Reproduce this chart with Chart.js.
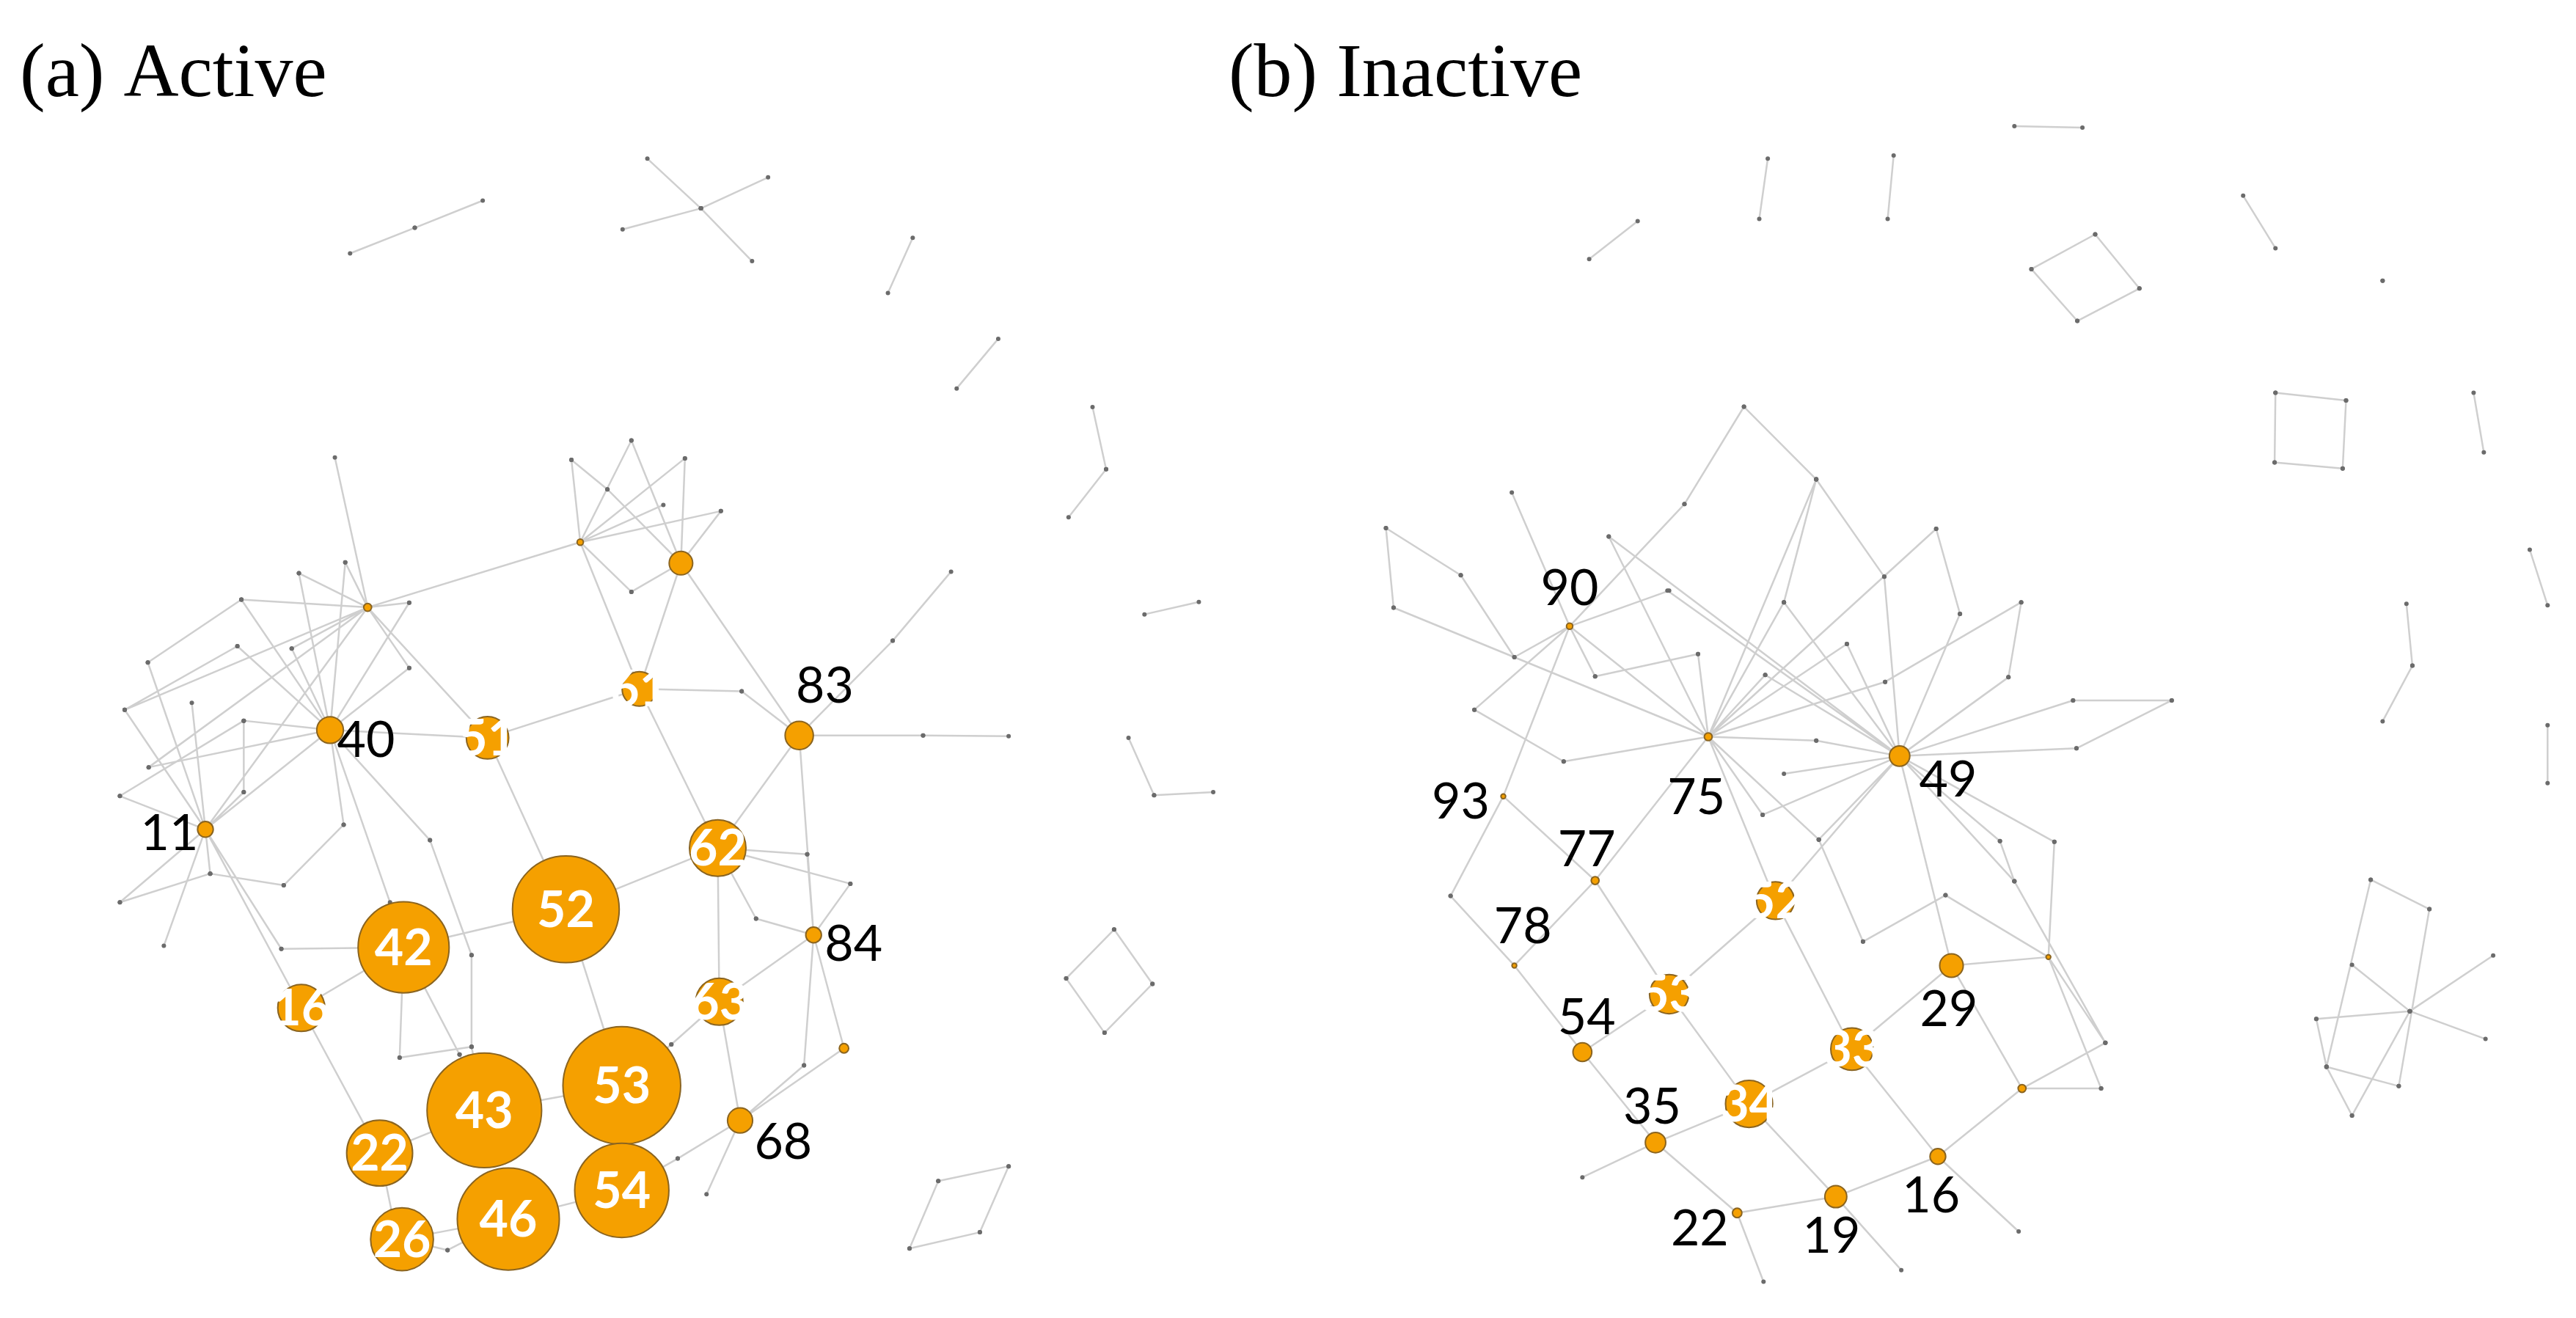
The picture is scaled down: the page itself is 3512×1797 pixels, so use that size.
<!DOCTYPE html>
<html>
<head>
<meta charset="utf-8">
<script src="https://cdn.jsdelivr.net/npm/chart.js@4"></script>
<style>
  html, body { margin: 0; padding: 0; background: #fff; }
  #wrap { width: 3512px; height: 1797px; position: relative; }
</style>
</head>
<body>
<div id="wrap"><canvas id="net"></canvas></div>
<script>
// panel titles
var panelTitles = ['(a) Active', '(b) Inactive']
var titleX = [12, 744]

// panel A: edges as [x1, y1, x2, y2] in panel units
var edgesA = [
  [438,186,519,153],[519,153,604,118],
  [779,155,877,128],[877,128,961,88],[810,64,877,128],[877,128,941,196],
  [1142,166,1111,237],[1249,296,1197,360],
  [1367,384,1384,464],[1384,464,1337,526],
  [1000,807,1117,685],[1117,685,1190,596],
  [1432,651,1500,635],
  [1412,810,1444,884],[1444,884,1518,880],
  [1394,1057,1442,1127],[1442,1127,1382,1190],[1382,1190,1334,1120],[1334,1120,1394,1057],
  [1174,1381,1262,1362],[1262,1362,1226,1447],[1226,1447,1138,1468],[1138,1468,1174,1381],
  [413,800,610,810],[610,810,800,747],[800,747,928,750],[928,750,1000,807],[1000,807,1155,807],[1155,807,1262,808],
  [460,642,726,558],[460,642,610,810],[726,558,800,747],[852,585,800,747],[852,585,1000,807],
  [726,558,715,452],[726,558,790,427],[726,558,857,450],[726,558,830,510],[726,558,902,518],
  [715,452,760,490],[760,490,852,585],[790,427,852,585],[857,450,852,585],[902,518,852,585],
  [726,558,790,622],[790,622,852,585],
  [800,747,898,952],[1000,807,898,952],[898,952,708,1031],[708,1031,505,1080],[708,1031,778,1258],[610,810,708,1031],
  [898,952,1010,960],[898,952,1064,998],[898,952,946,1043],[946,1043,1018,1064],[1010,960,1018,1064],
  [1064,998,1018,1064],[898,952,900,1150],[1000,807,1018,1064],
  [1018,1064,900,1150],[1018,1064,1056,1210],[1018,1064,1006,1232],
  [900,1150,840,1205],[840,1205,778,1258],[900,1150,926,1303],
  [926,1303,1056,1210],[926,1303,884,1398],[926,1303,848,1352],[848,1352,778,1393],[1006,1232,926,1303],
  [778,1258,606,1290],[778,1258,778,1393],[778,1393,636,1430],[606,1290,475,1345],[636,1430,503,1456],
  [475,1345,490,1420],[490,1420,503,1456],[503,1456,560,1470],[560,1470,636,1430],
  [505,1080,377,1158],[505,1080,352,1082],[505,1080,500,1222],[500,1222,590,1208],[505,1080,575,1218],
  [590,1208,606,1290],[575,1218,606,1290],
  [413,800,488,1022],[413,800,538,942],[538,942,590,1090],[590,1090,590,1208],
  [257,928,377,1158],[377,1158,475,1345],[257,928,352,1082],
  [257,928,150,1022],[257,928,205,1078],[257,928,263,985],[257,928,150,885],[257,928,185,713],
  [257,928,240,765],[257,928,156,774],[257,928,305,880],[257,928,413,800],[257,928,460,642],
  [185,713,302,632],[302,632,413,800],[156,774,297,692],[297,692,413,800],[150,885,305,788],
  [305,788,413,800],[305,788,305,880],[150,1022,263,985],
  [413,800,430,922],[430,922,355,1000],[355,1000,263,985],
  [413,800,374,598],[413,800,432,584],[413,800,512,636],[413,800,512,720],[413,800,365,695],
  [413,800,186,848],[419,449,460,642],
  [460,642,302,632],[460,642,374,598],[460,642,432,584],[460,642,512,636],[460,642,512,720],
  [460,642,156,774],[460,642,186,848],[460,642,365,695]
]

// panel A: nodes
var nodeAX = [413,610,800,1000,257,898,708,505,1018,377,900,778,606,475,926,778,636,503,852,460,726,1056]
var nodeAY = [800,810,747,807,928,952,1031,1080,1064,1158,1150,1258,1290,1345,1303,1393,1430,1456,585,642,558,1210]
var nodeAR = [17,27,22,18,10,36,68,58,10,30,30,75,73,42,16,60,65,40,15,5,4,6]
var nodeAText = ['40','51','61','83','11','62','52','42','84','16','63','53','43','22','68','54','46','26','','','','']
var nodeAInside = [0,1,1,0,0,1,1,1,0,1,1,1,1,1,0,1,1,1,0,0,0,0]
var labelAX = [458,610,800,1032,212,898,708,505,1068,377,900,778,606,475,980,778,636,503,0,0,0,0]
var labelAY = [812,810,747,742,932,952,1031,1080,1075,1158,1150,1258,1290,1345,1330,1393,1430,1456,0,0,0,0]

// panel B: edges
var edgesB = [
  [893,20,973,22],[603,62,593,140],[751,58,744,140],[450,143,393,192],[1162,110,1200,178],[1326,220,1326,220],
  [913,205,988,160],[988,160,1040,230],[1040,230,967,272],[967,272,913,205],
  [1200,365,1283,375],[1283,375,1279,463],[1279,463,1199,455],[1199,455,1200,365],
  [1433,365,1445,442],[1499,568,1520,640],[1354,638,1361,718],[1361,718,1326,790],[1520,795,1520,870],
  [1358,1165,1456,1093],[1358,1165,1447,1201],[1358,1165,1290,1105],[1358,1165,1248,1175],[1358,1165,1290,1300],
  [1312,995,1381,1033],[1381,1033,1345,1262],[1345,1262,1260,1237],[1260,1237,1248,1175],[1312,995,1260,1237],[1260,1237,1290,1300],
  [370,667,533,810],[370,667,487,621],[370,667,505,509],[505,509,575,383],[575,383,660,477],[660,477,740,603],[740,603,758,835],
  [154,540,163,643],[163,643,533,810],[154,540,242,601],[242,601,305,707],[305,707,370,667],[302,494,370,667],
  [370,667,400,732],[400,732,521,703],[521,703,533,810],[416,551,533,810],[416,551,758,835],
  [258,775,370,667],[258,775,363,842],[363,842,533,810],
  [533,810,622,636],[622,636,660,477],[622,636,758,835],[533,810,660,477],
  [533,810,801,541],[801,541,829,651],[829,651,758,835],[533,810,696,690],[696,690,758,835],
  [533,810,741,739],[741,739,901,636],[901,636,886,733],[886,733,758,835],[533,810,660,815],[660,815,758,835],
  [533,810,612,1022],[533,810,663,943],[663,943,715,1075],[715,1075,812,1015],[812,1015,933,1095],
  [533,810,597,911],[597,911,758,835],[622,858,758,835],[533,810,600,730],[600,730,758,835],
  [758,835,962,763],[962,763,1078,763],[1078,763,966,825],[966,825,758,835],[758,835,612,1022],[758,835,819,1106],
  [758,835,876,945],[876,945,893,997],[893,997,1000,1206],[758,835,940,946],[940,946,933,1095],[758,835,893,997],
  [758,835,485,621],[758,835,663,943],
  [292,887,370,667],[292,887,400,996],[292,887,230,1016],[230,1016,305,1106],[400,996,305,1106],[400,996,533,810],
  [305,1106,385,1218],[400,996,487,1143],[487,1143,612,1022],[487,1143,385,1218],[612,1022,702,1214],
  [487,1143,581,1285],[702,1214,581,1285],[702,1214,819,1106],[385,1218,471,1335],[581,1285,471,1335],
  [581,1285,683,1405],[702,1214,803,1353],[471,1335,567,1426],[471,1335,385,1380],[567,1426,683,1405],
  [683,1405,803,1353],[803,1353,902,1265],[819,1106,902,1265],[819,1106,933,1095],[933,1095,995,1265],
  [995,1265,902,1265],[902,1265,1000,1206],[933,1095,1000,1206],[683,1405,760,1500],[803,1353,898,1450],[567,1426,598,1515]
]

// panel B: nodes
var nodeBX = [758,533,370,292,400,305,612,487,385,819,702,581,471,567,683,803,902,933]
var nodeBY = [835,810,667,887,996,1106,1022,1143,1218,1106,1214,1285,1335,1426,1405,1353,1265,1095]
var nodeBR = [13,5,4,3,5,3,24,25,12,15,27,30,13,6,14,10,5,3]
var nodeBText = ['49','75','90','93','77','78','52','53','54','29','33','34','35','22','19','16','','']
var nodeBInside = [0,0,0,0,0,0,1,1,0,0,1,1,0,0,0,0,0,0]
var labelBX = [815,519,370,242,390,315,612,487,390,816,702,581,467,523,678,795,0,0]
var labelBY = [865,887,617,893,955,1054,1022,1143,1172,1162,1214,1285,1288,1445,1455,1403,0,0]

// panel units -> page units (page is 1560 x 798)
var panelMap = [
  {ox: 0, sx: 0.484, oy: 66, sy: 0.47},
  {ox: 760, sx: 0.515, oy: 67, sy: 0.468}
]
var pageW = 1560, pageH = 798

function mapX(p, v) { return panelMap[p].ox + v * panelMap[p].sx }
function mapY(p, v) { return panelMap[p].oy + v * panelMap[p].sy }

function edgeData(p, edges) {
  var out = []
  edges.forEach(e => {
    out.push({x: mapX(p, e[0]), y: mapY(p, e[1])})
    out.push({x: mapX(p, e[2]), y: mapY(p, e[3])})
    out.push({x: mapX(p, e[2]), y: null})
  })
  return out
}

function nodeData(p, xs, ys, rs) {
  return xs.map((x, i) => ({x: mapX(p, x), y: mapY(p, ys[i]), r: rs[i] * 1.07}))
}

function labelData(p, xs, ys, texts, inside) {
  return texts.map((t, i) => ({x: mapX(p, xs[i]), y: mapY(p, ys[i]), t: t, inside: inside[i]}))
    .filter(l => l.t !== '')
}

var labels = labelData(0, labelAX, labelAY, nodeAText, nodeAInside)
  .concat(labelData(1, labelBX, labelBY, nodeBText, nodeBInside))

var edgeStyle = {
  type: 'line',
  borderColor: '#cfcfcf',
  borderWidth: 2.5,
  pointRadius: 3,
  pointBackgroundColor: '#6b6b6b',
  pointBorderWidth: 0,
  spanGaps: false,
  tension: 0
}

var textPlugin = {
  id: 'texts',
  afterDatasetsDraw(chart) {
    var ctx = chart.ctx
    var sx = chart.scales.x, sy = chart.scales.y
    ctx.save()
    ctx.textAlign = 'center'
    ctx.textBaseline = 'middle'
    labels.forEach(l => {
      ctx.font = l.inside ? 'bold 68px Lato' : '68px Lato'
      ctx.fillStyle = l.inside ? '#ffffff' : '#000000'
      ctx.fillText(l.t, sx.getPixelForValue(l.x), sy.getPixelForValue(l.y) + 2)
    })
    ctx.textAlign = 'left'
    ctx.textBaseline = 'alphabetic'
    ctx.font = '104px "Liberation Serif"'
    ctx.fillStyle = '#000'
    panelTitles.forEach((t, i) => {
      ctx.fillText(t, sx.getPixelForValue(titleX[i]), sy.getPixelForValue(58))
    })
    ctx.restore()
  }
}

new Chart(document.getElementById('net'), {
  type: 'bubble',
  data: {
    datasets: [
      // first dataset is drawn on top
      {
        type: 'bubble',
        data: nodeData(0, nodeAX, nodeAY, nodeAR).concat(nodeData(1, nodeBX, nodeBY, nodeBR)),
        backgroundColor: '#f5a000',
        borderColor: '#8a6420',
        borderWidth: 2
      },
      Object.assign({data: edgeData(0, edgesA)}, edgeStyle),
      Object.assign({data: edgeData(1, edgesB)}, edgeStyle)
    ]
  },
  options: {
    responsive: true,
    maintainAspectRatio: false,
    devicePixelRatio: 1,
    animation: false,
    layout: {padding: 0, autoPadding: false},
    plugins: {legend: {display: false}, tooltip: {enabled: false}},
    scales: {
      x: {type: 'linear', min: 0, max: pageW, display: false},
      y: {type: 'linear', min: 0, max: pageH, reverse: true, display: false}
    }
  },
  plugins: [textPlugin]
})
</script>
</body>
</html>
